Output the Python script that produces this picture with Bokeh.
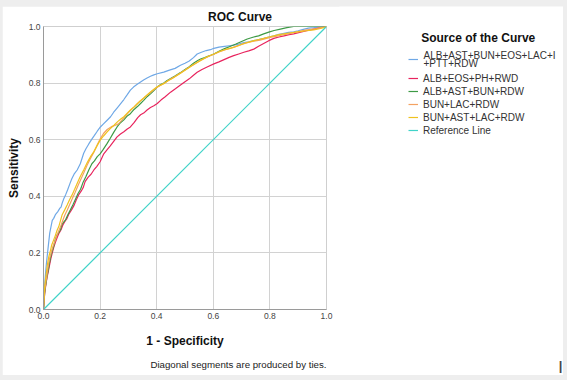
from bokeh.plotting import figure
from bokeh.layouts import row
from bokeh.models import Label, Legend, LegendItem, FixedTicker, PrintfTickFormatter, Title
from bokeh.embed import file_html
from bokeh.resources import INLINE

# ---------------- data ----------------
series_names = [
    "ALB+AST+BUN+EOS+LAC+I",
    "ALB+EOS+PH+RWD",
    "ALB+AST+BUN+RDW",
    "BUN+LAC+RDW",
    "BUN+AST+LAC+RDW",
    "Reference Line",
]
first_name_cont = "+PTT+RDW"   # second line of the first legend entry
series_colors = ["#6fa8e6", "#e8245e", "#3d9a45", "#f4a262", "#efc21f", "#40d3c8"]

roc_blue = [(0.000,0.000),(0.002,0.040),(0.004,0.085),(0.007,0.125),(0.010,0.160),(0.013,0.188),(0.017,0.225),(0.022,0.270),(0.026,0.290),(0.031,0.315),(0.036,0.322),(0.042,0.335),(0.050,0.345),(0.058,0.358),(0.062,0.362),(0.066,0.376),(0.072,0.392),(0.078,0.405),(0.085,0.422),(0.093,0.444),(0.100,0.462),(0.108,0.478),(0.119,0.493),(0.130,0.515),(0.142,0.552),(0.150,0.568),(0.160,0.585),(0.172,0.604),(0.180,0.615),(0.190,0.630),(0.201,0.645),(0.212,0.656),(0.224,0.668),(0.237,0.681),(0.248,0.697),(0.260,0.712),(0.272,0.727),(0.284,0.742),(0.296,0.759),(0.307,0.775),(0.318,0.786),(0.330,0.795),(0.343,0.804),(0.355,0.812),(0.366,0.818),(0.378,0.824),(0.390,0.829),(0.402,0.833),(0.425,0.839),(0.445,0.846),(0.465,0.852),(0.484,0.863),(0.500,0.870),(0.515,0.878),(0.530,0.890),(0.543,0.903),(0.558,0.909),(0.575,0.915),(0.590,0.918),(0.602,0.923),(0.620,0.927),(0.640,0.930),(0.656,0.932),(0.672,0.934),(0.690,0.938),(0.708,0.943),(0.725,0.946),(0.743,0.950),(0.760,0.954),(0.778,0.958),(0.796,0.963),(0.814,0.967),(0.832,0.972),(0.850,0.976),(0.866,0.979),(0.884,0.981),(0.900,0.985),(0.918,0.990),(0.936,0.994),(0.955,0.996),(0.970,0.998),(0.985,0.999),(1.000,1.000)]

roc_red = [(0,0),(0.002,0.028),(0.004,0.055),(0.007,0.078),(0.010,0.098),(0.013,0.115),(0.017,0.135),(0.021,0.155),(0.026,0.180),(0.031,0.200),(0.037,0.222),(0.043,0.240),(0.049,0.256),(0.055,0.270),(0.062,0.282),(0.068,0.298),(0.075,0.310),(0.082,0.320),(0.090,0.338),(0.099,0.352),(0.108,0.368),(0.116,0.388),(0.124,0.405),(0.133,0.418),(0.140,0.430),(0.147,0.452),(0.158,0.468),(0.168,0.478),(0.178,0.493),(0.188,0.505),(0.200,0.522),(0.213,0.550),(0.225,0.565),(0.236,0.578),(0.248,0.594),(0.260,0.610),(0.272,0.620),(0.284,0.628),(0.296,0.638),(0.307,0.645),(0.320,0.660),(0.333,0.678),(0.343,0.688),(0.354,0.694),(0.366,0.705),(0.378,0.714),(0.390,0.720),(0.402,0.728),(0.415,0.740),(0.430,0.752),(0.449,0.768),(0.466,0.780),(0.484,0.793),(0.500,0.805),(0.515,0.815),(0.530,0.828),(0.543,0.838),(0.560,0.848),(0.580,0.858),(0.602,0.868),(0.620,0.875),(0.640,0.884),(0.656,0.891),(0.672,0.897),(0.690,0.903),(0.708,0.909),(0.725,0.914),(0.743,0.920),(0.760,0.930),(0.778,0.940),(0.796,0.950),(0.814,0.958),(0.832,0.963),(0.850,0.967),(0.868,0.971),(0.884,0.974),(0.905,0.979),(0.930,0.985),(0.955,0.991),(0.975,0.995),(1.0,1.0)]

roc_green = [(0,0),(0.002,0.030),(0.004,0.058),(0.007,0.082),(0.010,0.100),(0.012,0.117),(0.016,0.135),(0.019,0.152),(0.024,0.180),(0.030,0.205),(0.036,0.223),(0.041,0.245),(0.047,0.262),(0.054,0.272),(0.060,0.282),(0.065,0.300),(0.072,0.310),(0.078,0.317),(0.086,0.335),(0.095,0.352),(0.104,0.370),(0.113,0.390),(0.122,0.410),(0.131,0.425),(0.140,0.450),(0.150,0.470),(0.160,0.493),(0.171,0.515),(0.180,0.525),(0.190,0.540),(0.200,0.550),(0.210,0.564),(0.225,0.587),(0.236,0.605),(0.248,0.626),(0.260,0.645),(0.272,0.660),(0.284,0.670),(0.296,0.684),(0.307,0.692),(0.320,0.707),(0.333,0.718),(0.343,0.728),(0.354,0.739),(0.366,0.752),(0.378,0.762),(0.390,0.774),(0.402,0.786),(0.414,0.795),(0.425,0.800),(0.437,0.809),(0.449,0.816),(0.466,0.826),(0.484,0.837),(0.500,0.848),(0.515,0.858),(0.530,0.870),(0.545,0.880),(0.555,0.885),(0.570,0.890),(0.585,0.896),(0.602,0.903),(0.620,0.912),(0.640,0.922),(0.661,0.930),(0.680,0.938),(0.700,0.947),(0.720,0.956),(0.740,0.962),(0.760,0.967),(0.778,0.974),(0.796,0.980),(0.815,0.986),(0.837,0.991),(0.860,0.996),(0.884,1.000),(1.0,1.0)]

roc_orange = [(0,0),(0.002,0.035),(0.004,0.065),(0.008,0.095),(0.012,0.120),(0.016,0.150),(0.021,0.178),(0.027,0.200),(0.033,0.222),(0.040,0.240),(0.046,0.258),(0.053,0.276),(0.060,0.292),(0.067,0.312),(0.075,0.333),(0.084,0.352),(0.093,0.372),(0.102,0.392),(0.112,0.414),(0.122,0.438),(0.132,0.460),(0.142,0.482),(0.154,0.510),(0.166,0.534),(0.178,0.556),(0.190,0.582),(0.201,0.604),(0.212,0.622),(0.225,0.636),(0.240,0.646),(0.252,0.650),(0.265,0.656),(0.276,0.668),(0.288,0.682),(0.300,0.696),(0.313,0.709),(0.326,0.721),(0.340,0.735),(0.352,0.745),(0.366,0.757),(0.378,0.767),(0.392,0.778),(0.405,0.787),(0.420,0.796),(0.435,0.805),(0.450,0.815),(0.466,0.824),(0.484,0.836),(0.500,0.846),(0.516,0.857),(0.532,0.866),(0.548,0.876),(0.565,0.885),(0.585,0.895),(0.602,0.902),(0.620,0.910),(0.640,0.917),(0.660,0.923),(0.680,0.930),(0.700,0.937),(0.720,0.943),(0.743,0.948),(0.765,0.952),(0.785,0.957),(0.805,0.962),(0.825,0.966),(0.845,0.970),(0.865,0.974),(0.884,0.978),(0.905,0.983),(0.925,0.987),(0.945,0.990),(0.965,0.993),(0.985,0.997),(1.0,1.0)]

roc_yellow = [(0,0),(0.002,0.045),(0.004,0.080),(0.007,0.106),(0.010,0.130),(0.014,0.160),(0.019,0.188),(0.025,0.210),(0.029,0.228),(0.036,0.246),(0.042,0.262),(0.048,0.280),(0.054,0.293),(0.060,0.314),(0.066,0.335),(0.075,0.352),(0.084,0.370),(0.092,0.388),(0.101,0.405),(0.110,0.425),(0.120,0.448),(0.130,0.470),(0.142,0.493),(0.155,0.520),(0.166,0.540),(0.177,0.556),(0.190,0.580),(0.201,0.599),(0.213,0.614),(0.225,0.628),(0.237,0.640),(0.250,0.652),(0.262,0.664),(0.274,0.674),(0.284,0.681),(0.296,0.694),(0.308,0.706),(0.320,0.716),(0.331,0.727),(0.343,0.738),(0.355,0.748),(0.366,0.758),(0.378,0.769),(0.390,0.778),(0.402,0.787),(0.414,0.793),(0.425,0.798),(0.440,0.808),(0.455,0.816),(0.470,0.826),(0.484,0.835),(0.500,0.845),(0.515,0.855),(0.530,0.866),(0.543,0.873),(0.560,0.883),(0.580,0.894),(0.602,0.903),(0.620,0.911),(0.640,0.918),(0.656,0.922),(0.672,0.926),(0.690,0.933),(0.708,0.940),(0.725,0.945),(0.743,0.950),(0.760,0.954),(0.778,0.958),(0.796,0.963),(0.814,0.967),(0.832,0.971),(0.850,0.974),(0.868,0.977),(0.884,0.979),(0.905,0.982),(0.930,0.985),(0.955,0.988),(0.975,0.992),(0.990,0.996),(1.0,1.0)]

reference_line = [(0.0, 0.0), (1.0, 1.0)]

axis_ticks = [0.0, 0.2, 0.4, 0.6, 0.8, 1.0]

chart_title = "ROC Curve"
x_title = "1 - Specificity"
y_title = "Sensitivity"
legend_title = "Source of the Curve"
footnote = "Diagonal segments are produced by ties."

FONT = "Liberation Sans"
PANEL_H = 369

# ---------------- main chart ----------------
p = figure(width=338, height=PANEL_H, x_range=(0, 1), y_range=(0, 1),
           output_backend="svg", toolbar_location=None,
           min_border_left=41, min_border_right=14,
           min_border_top=20, min_border_bottom=65,
           margin=(6, 0, 5, 2))
p.frame_align = False
p.background_fill_color = "white"
p.border_fill_color = "white"
p.outline_line_color = "#cfcfcf"

p.title = Title(text=chart_title, align="left", offset=164.5, standoff=2,
                vertical_align="top",
                text_font=FONT, text_font_size="12px", text_font_style="bold",
                text_color="#111111")

for ax in (p.xaxis[0], p.yaxis[0]):
    ax.ticker = FixedTicker(ticks=axis_ticks)
    ax.formatter = PrintfTickFormatter(format="%.1f")
    ax.major_tick_line_color = None
    ax.minor_tick_line_color = None
    ax.major_tick_out = 0
    ax.major_tick_in = 0
    ax.axis_line_color = "#9a9a9a"
    ax.major_label_text_font = FONT
    ax.major_label_text_font_size = "8.5px"
    ax.major_label_text_color = "#444444"
    ax.axis_label_text_font = FONT
    ax.axis_label_text_font_size = "12px"
    ax.axis_label_text_font_style = "bold"
    ax.axis_label_text_color = "#111111"

p.xaxis.axis_label = x_title
p.yaxis.axis_label = y_title
p.xaxis.major_label_standoff = 3
p.yaxis.major_label_standoff = 3
p.xaxis.axis_label_standoff = 12
p.yaxis.axis_label_standoff = 5

p.grid.grid_line_color = "#d2d2d2"
p.grid.grid_line_width = 1

p.add_layout(Title(text=footnote, align="right", offset=0, standoff=12,
                   text_font=FONT, text_font_size="9.7px", text_font_style="normal",
                   text_color="#222222"), "below")

curves = [roc_blue, roc_red, roc_green, roc_orange, roc_yellow, reference_line]
for pts, col in zip(curves, series_colors):
    xs = [a for a, b in pts]
    ys = [b for a, b in pts]
    p.line(xs, ys, line_color=col, line_width=1.2)

# ---------------- legend panel ----------------
# its ranges lie away from the data, so the swatch renderers only feed the legend
q = figure(width=224, height=PANEL_H, x_range=(2, 3), y_range=(2, 3),
           output_backend="svg", toolbar_location=None,
           x_axis_location=None, y_axis_location=None,
           min_border=0, margin=(6, 4, 5, -1))
q.frame_align = False
q.grid.visible = False
q.outline_line_color = None
q.background_fill_color = "white"
q.border_fill_color = "white"

swatches = []
for pts, col in zip(curves, series_colors):
    xs = [a for a, b in pts]
    ys = [b for a, b in pts]
    swatches.append(q.line(xs, ys, line_color=col, line_width=1.2))

legend_style = dict(
    padding=0, margin=0, spacing=1,
    glyph_width=10, glyph_height=12, label_height=12, label_standoff=5,
    label_text_font=FONT, label_text_font_size="10px", label_text_color="#333333",
    border_line_color=None, background_fill_alpha=0,
)
# first (two-line) entry: swatch between its two text lines
legend_first = Legend(
    items=[LegendItem(label=" ", renderers=[swatches[0]])],
    location=(69, 310), **legend_style)
legend_rest = Legend(
    items=[LegendItem(label=n, renderers=[r]) for n, r in zip(series_names[1:], swatches[1:])],
    location=(69, 239), **legend_style)
q.add_layout(legend_first, "center")
q.add_layout(legend_rest, "center")
for txt, yy in ((series_names[0], 320), (first_name_cont, 311.6)):
    q.add_layout(Label(x=84, y=yy, x_units="screen", y_units="screen", text=txt,
                       text_font=FONT, text_font_size="10px", text_color="#333333",
                       text_align="left", text_baseline="middle"))

q.add_layout(Label(x=81.7, y=338, x_units="screen", y_units="screen", text=legend_title,
                   text_font=FONT, text_font_size="12px", text_font_style="bold",
                   text_color="#111111", text_align="left", text_baseline="middle"))
q.add_layout(Label(x=221, y=10, x_units="screen", y_units="screen", text="|",
                   text_font=FONT, text_font_size="13px", text_font_style="bold",
                   text_color="#444444", text_align="center", text_baseline="middle"))

layout = row(p, q, styles={"background-color": "#eeeeee"})

open("out.html", "w").write(file_html(layout, INLINE))
